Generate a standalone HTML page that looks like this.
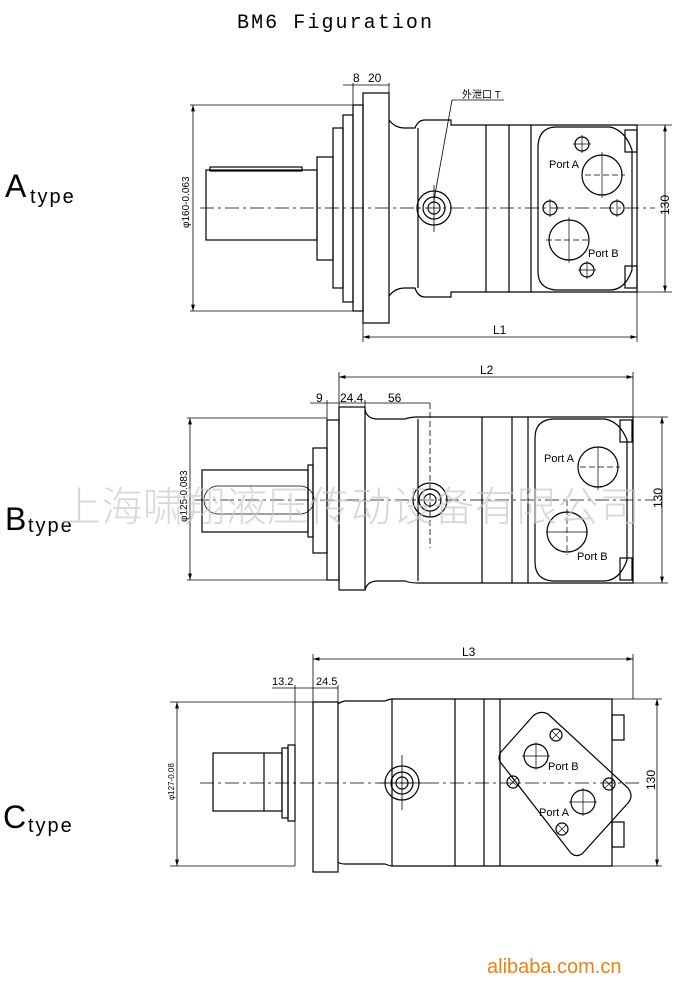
<!DOCTYPE html>
<html><head><meta charset="utf-8"><style>
html,body{margin:0;padding:0;background:#fff;}
svg{display:block;}
text{font-family:"Liberation Sans","Noto Sans CJK SC",sans-serif;}
</style></head><body>
<svg width="687" height="997" viewBox="0 0 687 997" xmlns="http://www.w3.org/2000/svg">
<defs>
<marker id="ar" viewBox="0 0 10 6" refX="10" refY="3" markerWidth="8" markerHeight="5" orient="auto-start-reverse"><path d="M0,0L10,3L0,6z" fill="#000"/></marker>
</defs>
<rect width="687" height="997" fill="#fff"/>
<text x="237" y="28" font-size="20" fill="#000" textLength="195" style="font-family:'Liberation Mono',monospace">BM6 Figuration</text>

<g fill="#000">
<text x="5" y="197" font-size="32">A</text><text x="30" y="203" font-size="20" letter-spacing="2">type</text>
<text x="5" y="530" font-size="32">B</text><text x="28" y="532" font-size="20" letter-spacing="2">type</text>
<text x="3" y="828" font-size="32">C</text><text x="28" y="832" font-size="20" letter-spacing="2">type</text>
</g>

<g stroke="#000" stroke-width="1.2" fill="none">
<!-- ===== A type ===== -->
<line x1="200" y1="208" x2="655" y2="208" stroke-dasharray="14,4,3,4" stroke-width="0.8"/>
<rect x="206" y="170" width="111" height="70"/>
<rect x="210" y="167" width="92" height="4"/>
<rect x="317" y="157" width="16" height="103"/>
<rect x="333" y="128" width="10" height="160"/>
<rect x="343" y="115" width="10" height="187"/>
<rect x="353" y="105" width="10" height="206"/>
<rect x="363" y="93" width="26" height="230"/>
<path d="M389,120 Q395,128 405,128 L415,128 Q418,120 425,120 L451,120 L451,125 L637,125 L637,292 L451,292 L451,297 L425,297 Q418,297 415,288 L405,288 Q395,288 389,296"/>
<line x1="418" y1="128" x2="418" y2="288"/>
<line x1="486" y1="125" x2="486" y2="292"/><line x1="509" y1="125" x2="509" y2="292"/><line x1="531" y1="125" x2="531" y2="292"/>
<path d="M555,127 L610,127 Q625,130 632,150 L632,270 Q625,290 610,290 L555,290 Q538,288 538,272 L538,148 Q538,128 555,127z"/>
<rect x="625" y="130" width="12" height="22"/><rect x="625" y="266" width="12" height="22"/>
<circle cx="602" cy="175" r="20"/><circle cx="569" cy="240" r="20"/>
<g stroke-width="0.7"><line x1="602" y1="152" x2="602" y2="198"/><line x1="585" y1="175" x2="625" y2="175" stroke-dasharray="6,3"/>
<line x1="569" y1="217" x2="569" y2="263"/><line x1="546" y1="240" x2="590" y2="240" stroke-dasharray="6,3"/></g>
<circle cx="582" cy="144" r="7"/><circle cx="550" cy="208" r="7"/><circle cx="617" cy="208" r="7"/><circle cx="587" cy="270" r="7"/>
<g stroke-width="0.7"><line x1="582" y1="135" x2="582" y2="153"/><line x1="573" y1="144" x2="591" y2="144"/>
<line x1="550" y1="199" x2="550" y2="217"/><line x1="617" y1="199" x2="617" y2="217"/>
<line x1="587" y1="261" x2="587" y2="279"/><line x1="578" y1="270" x2="596" y2="270"/></g>
<circle cx="434" cy="208" r="17"/><circle cx="434" cy="208" r="11"/><circle cx="434" cy="208" r="6"/>
<line x1="434" y1="185" x2="434" y2="232" stroke-width="0.8"/>
<line x1="434" y1="200" x2="452" y2="100" stroke-width="0.8"/><line x1="452" y1="100" x2="504" y2="100" stroke-width="0.8"/>
<line x1="190" y1="105" x2="353" y2="105" stroke-width="0.8"/><line x1="190" y1="311" x2="353" y2="311" stroke-width="0.8"/>
<line x1="193" y1="105" x2="193" y2="311" stroke-width="0.8" marker-start="url(#ar)" marker-end="url(#ar)"/>
<line x1="353" y1="83" x2="353" y2="105" stroke-width="0.8"/><line x1="389" y1="83" x2="389" y2="93" stroke-width="0.8"/>
<line x1="343" y1="85" x2="389" y2="85" stroke-width="0.8"/>
<line x1="363" y1="323" x2="363" y2="342" stroke-width="0.8"/><line x1="637" y1="292" x2="637" y2="342" stroke-width="0.8"/>
<line x1="363" y1="337" x2="637" y2="337" stroke-width="0.8" marker-start="url(#ar)" marker-end="url(#ar)"/>
<line x1="637" y1="125" x2="672" y2="125" stroke-width="0.8"/><line x1="637" y1="292" x2="672" y2="292" stroke-width="0.8"/>
<line x1="665" y1="125" x2="665" y2="292" stroke-width="0.8" marker-start="url(#ar)" marker-end="url(#ar)"/>

<!-- ===== B type ===== -->
<line x1="195" y1="500" x2="655" y2="500" stroke-dasharray="14,4,3,4" stroke-width="0.8"/>
<rect x="202" y="470" width="106" height="62"/>
<path d="M218,486 L300,486 A6,6 0 0 1 300,514 L218,514 A6,6 0 0 1 218,486z" stroke-width="0.8"/>
<rect x="308" y="465" width="5" height="72"/>
<rect x="313" y="448" width="14" height="105"/>
<rect x="327" y="420" width="12" height="160"/>
<rect x="339" y="407" width="26" height="183"/>
<path d="M365,410 Q367,419 378,419 L405,419 Q410,417 418,417 L633,417 L633,583 L418,583 Q410,583 405,581 L378,581 Q367,581 365,590"/>
<line x1="418" y1="419" x2="418" y2="581"/>
<line x1="482" y1="417" x2="482" y2="583"/><line x1="512" y1="417" x2="512" y2="583"/><line x1="528" y1="417" x2="528" y2="583"/>
<path d="M553,419 L605,419 Q620,422 627,440 L627,560 Q620,580 605,581 L553,581 Q535,580 535,562 L535,438 Q535,420 553,419z"/>
<rect x="620" y="420" width="12" height="22"/><rect x="620" y="558" width="12" height="22"/>
<circle cx="598" cy="467" r="20"/><circle cx="567" cy="532" r="20"/>
<g stroke-width="0.7"><line x1="598" y1="447" x2="598" y2="490"/><line x1="580" y1="467" x2="620" y2="467" stroke-dasharray="6,3"/>
<line x1="567" y1="500" x2="567" y2="555" stroke-dasharray="6,3"/><line x1="546" y1="532" x2="588" y2="532"/></g>
<circle cx="430" cy="500" r="17"/><circle cx="430" cy="500" r="11"/><circle cx="430" cy="500" r="6"/>
<line x1="430" y1="403" x2="430" y2="548" stroke-width="0.8" stroke-dasharray="6,3"/>
<line x1="187" y1="418" x2="327" y2="418" stroke-width="0.8"/><line x1="187" y1="580" x2="327" y2="580" stroke-width="0.8"/>
<line x1="190" y1="418" x2="190" y2="580" stroke-width="0.8" marker-start="url(#ar)" marker-end="url(#ar)"/>
<line x1="339" y1="372" x2="339" y2="407" stroke-width="0.8"/><line x1="633" y1="372" x2="633" y2="417" stroke-width="0.8"/>
<line x1="339" y1="377" x2="633" y2="377" stroke-width="0.8" marker-start="url(#ar)" marker-end="url(#ar)"/>
<line x1="327" y1="400" x2="327" y2="420" stroke-width="0.8"/><line x1="365" y1="400" x2="365" y2="407" stroke-width="0.8"/>
<line x1="310" y1="403" x2="430" y2="403" stroke-width="0.8"/>
<line x1="633" y1="417" x2="668" y2="417" stroke-width="0.8"/><line x1="633" y1="583" x2="668" y2="583" stroke-width="0.8"/>
<line x1="662" y1="417" x2="662" y2="583" stroke-width="0.8" marker-start="url(#ar)" marker-end="url(#ar)"/>

<!-- ===== C type ===== -->
<line x1="200" y1="783" x2="640" y2="783" stroke-dasharray="14,4,3,4" stroke-width="0.8"/>
<rect x="213" y="753" width="69" height="58"/>
<line x1="264" y1="753" x2="264" y2="811"/>
<rect x="282" y="748" width="6" height="70"/>
<rect x="288" y="745" width="7" height="76"/>
<rect x="313" y="702" width="25" height="170"/>
<path d="M338,704 Q340,702 345,701 L385,701 Q390,699 392,699 L612,699 L612,866 L392,866 Q390,866 385,864 L345,864 Q340,864 338,862"/>
<line x1="392" y1="699" x2="392" y2="866"/>
<line x1="455" y1="699" x2="455" y2="866"/><line x1="484" y1="699" x2="484" y2="866"/><line x1="500" y1="699" x2="500" y2="866"/>
<path d="M548,714 Q540,710 533,716 L501,752 Q497,758 501,763 L570,852 Q575,858 582,854 L628,803 Q634,796 628,788 Z"/>
<rect x="612" y="715" width="12" height="25"/><rect x="612" y="822" width="12" height="25"/>
<circle cx="536" cy="756" r="12"/><circle cx="583" cy="802" r="12"/>
<g stroke-width="0.7"><line x1="536" y1="742" x2="536" y2="770"/><line x1="522" y1="756" x2="550" y2="756"/>
<line x1="583" y1="788" x2="583" y2="816"/><line x1="569" y1="802" x2="597" y2="802"/></g>
<circle cx="556" cy="735" r="6"/><circle cx="513" cy="782" r="6"/><circle cx="609" cy="784" r="6"/><circle cx="562" cy="829" r="6"/>
<g stroke-width="0.6"><path d="M552,731l8,8M560,731l-8,8M509,778l8,8M517,778l-8,8M605,780l8,8M613,780l-8,8M558,825l8,8M566,825l-8,8"/></g>
<circle cx="402" cy="783" r="17"/><circle cx="402" cy="783" r="11"/><circle cx="402" cy="783" r="6"/>
<line x1="402" y1="755" x2="402" y2="810" stroke-width="0.8"/>
<line x1="380" y1="783" x2="425" y2="783" stroke-width="0.8"/>
<line x1="170" y1="702" x2="313" y2="702" stroke-width="0.8"/><line x1="170" y1="866" x2="295" y2="866" stroke-width="0.8"/>
<line x1="177" y1="702" x2="177" y2="866" stroke-width="0.8" marker-start="url(#ar)" marker-end="url(#ar)"/>
<line x1="295" y1="685" x2="295" y2="866" stroke-width="0.8"/><line x1="338" y1="685" x2="338" y2="702" stroke-width="0.8"/>
<line x1="272" y1="688" x2="338" y2="688" stroke-width="0.8"/>
<line x1="313" y1="654" x2="313" y2="702" stroke-width="0.8"/><line x1="633" y1="654" x2="633" y2="699" stroke-width="0.8"/>
<line x1="313" y1="659" x2="633" y2="659" stroke-width="0.8" marker-start="url(#ar)" marker-end="url(#ar)"/>
<line x1="612" y1="699" x2="662" y2="699" stroke-width="0.8"/><line x1="612" y1="866" x2="662" y2="866" stroke-width="0.8"/>
<line x1="657" y1="699" x2="657" y2="866" stroke-width="0.8" marker-start="url(#ar)" marker-end="url(#ar)"/>
</g>

<g fill="#000" font-size="12">
<text x="353" y="82">8</text><text x="368" y="82">20</text>
<text x="462" y="98" font-size="10">外泄口 T</text>
<text x="493" y="334">L1</text>
<text x="549" y="168" font-size="11">Port A</text><text x="588" y="257" font-size="11">Port B</text>
<text transform="translate(669,215) rotate(-90)" font-size="12">130</text>
<text transform="translate(189,228) rotate(-90)" font-size="10">φ160-0.063</text>
<text x="480" y="374">L2</text>
<text x="316" y="402">9</text><text x="340" y="402">24.4</text><text x="388" y="402">56</text>
<text x="544" y="462" font-size="11">Port A</text><text x="577" y="560" font-size="11">Port B</text>
<text transform="translate(662,508) rotate(-90)" font-size="12">130</text>
<text transform="translate(187,522) rotate(-90)" font-size="10">φ125-0.083</text>
<text x="462" y="656">L3</text>
<text x="272" y="685" font-size="11">13.2</text><text x="316" y="685" font-size="11">24.5</text>
<text x="548" y="770" font-size="11">Port B</text><text x="539" y="816" font-size="11">Port A</text>
<text transform="translate(655,790) rotate(-90)" font-size="12">130</text>
<text transform="translate(174,800) rotate(-90)" font-size="8">φ127-0.08</text>
</g>

<text x="60" y="521" font-size="41" fill="#c8c8c8" fill-opacity="0.7" textLength="580" style="font-family:'Noto Sans CJK SC',sans-serif;font-weight:300">上海啸翔液压传动设备有限公司</text>
<text x="487" y="973" font-size="20" fill="#f08010">alibaba.com.cn</text>
</svg>
</body></html>
